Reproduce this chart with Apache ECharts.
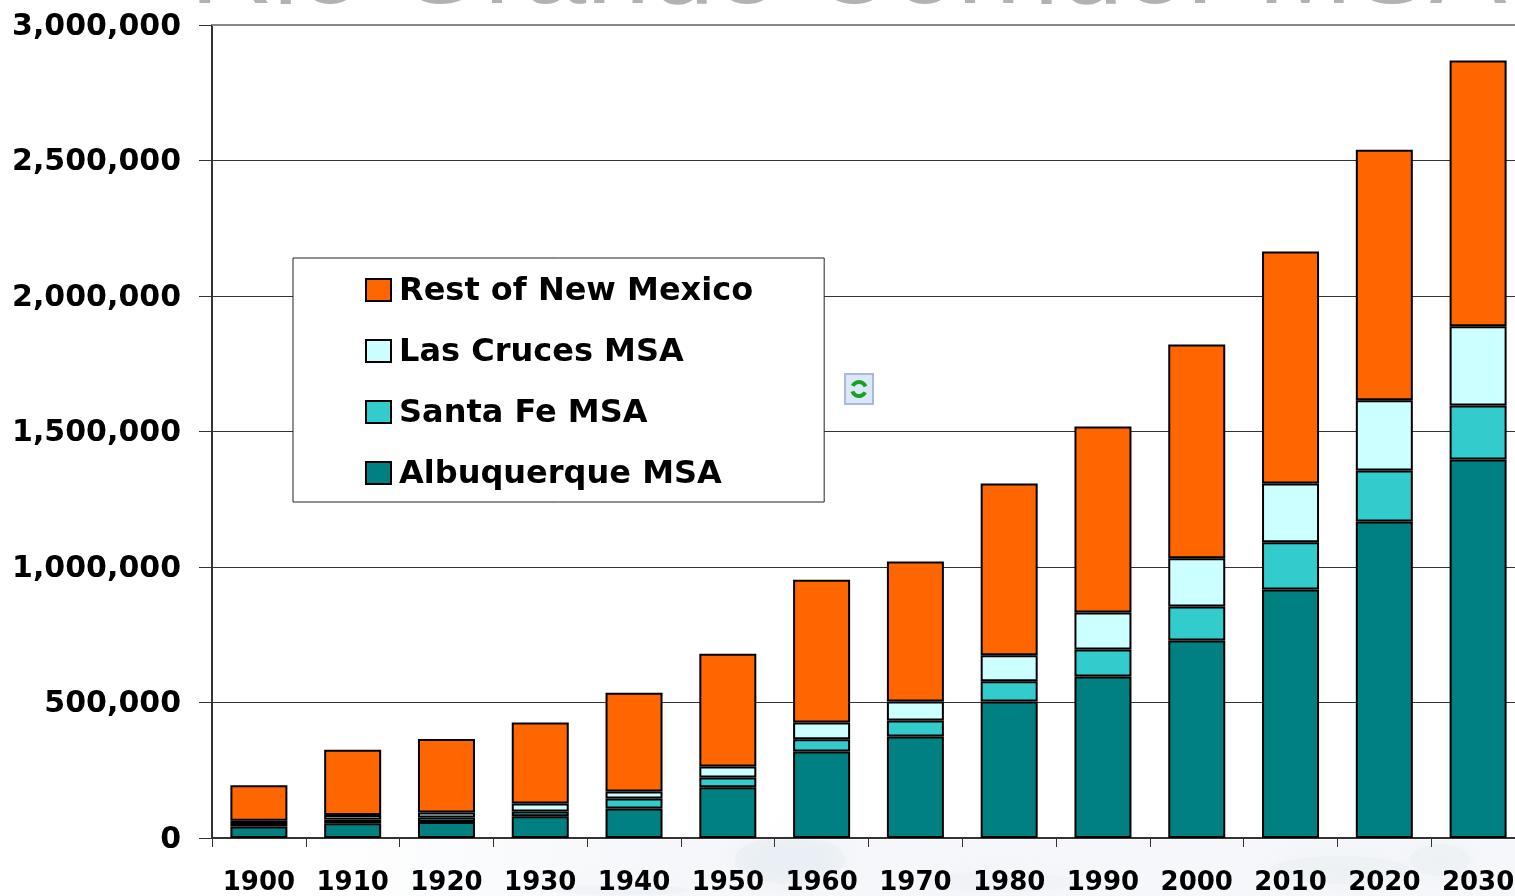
<!DOCTYPE html>
<html><head><meta charset="utf-8">
<style>html,body{margin:0;padding:0;background:#fff}#c{width:1515px;height:896px}</style>
<script src="https://cdn.jsdelivr.net/npm/echarts@6/dist/echarts.min.js"></script>
</head><body><div id="c"></div>
<script>
const categories=['1900','1910','1920','1930','1940','1950','1960','1970','1980','1990','2000','2010','2020','2030'];
const albuquerque=[42000,54000,59000,80000,109000,187000,319000,375000,504000,596000,729000,917000,1168000,1397000];
const santaFe=[13000,14000,17000,18000,37000,36000,45000,59000,74000,100000,125000,174000,188000,199000];
const lasCruces=[9000,17000,18000,29000,26000,41000,62000,70000,96000,136000,178000,217000,259000,292000];
const restOfNM=[131000,241000,271000,299000,364000,416000,527000,516000,634000,686000,789000,856000,925000,981000];
const seriesNames=['Albuquerque MSA','Santa Fe MSA','Las Cruces MSA','Rest of New Mexico'];
const seriesColors=['#008080','#33CCCC','#CCFFFF','#FF6600'];
const seriesData=[albuquerque,santaFe,lasCruces,restOfNM];
const titleText='Rio Grande Corridor MSAs';
const chart=echarts.init(document.getElementById('c'),null,{renderer:'canvas'});
const font='"DejaVu Sans"';
const cloud=(cx,cy,rx,ry,o)=>({type:'ellipse',silent:true,z:-1,shape:{cx,cy,rx,ry},style:{fill:'#c9d3e4',opacity:o,shadowBlur:24,shadowColor:'#c9d3e4'}});
chart.setOption({
  animation:false,
  backgroundColor:'#fff',
  graphic:{elements:[
    {type:'rect',silent:true,z:-2,shape:{x:300,y:840,width:1215,height:56},style:{fill:new echarts.graphic.LinearGradient(0,0,1,0,[{offset:0,color:'#ffffff'},{offset:0.3,color:'#f5f7fa'},{offset:1,color:'#f5f7fa'}])}},
    cloud(790,860,55,24,0.12),cloud(1000,882,80,10,0.08),cloud(1340,870,70,14,0.1),cloud(1440,860,30,16,0.1),cloud(620,890,70,5,0.1),
    {type:'text',silent:true,z:0,x:190,y:-86,style:{text:titleText,font:'115px "Liberation Sans"',fill:'#b2b2b2'}},
    {type:'group',x:845,y:374,silent:true,z:50,children:[
      {type:'rect',shape:{x:0,y:0,width:28,height:30},style:{fill:'#dce7fa',stroke:'#a9bbdc',lineWidth:2}},
      {type:'arc',shape:{cx:14,cy:15,r:7,startAngle:3.6,endAngle:5.9},style:{fill:'none',stroke:'#19a21e',lineWidth:4}},
      {type:'arc',shape:{cx:14,cy:15,r:7,startAngle:0.5,endAngle:2.8},style:{fill:'none',stroke:'#19a21e',lineWidth:4}}
    ]}
  ]},
  grid:{left:212,top:25,width:1313,height:813,containLabel:false,outerBoundsMode:'none'},
  legend:{
    orient:'vertical',left:293,top:258,
    data:[...seriesNames].reverse().map(name=>({name,icon:'rect'})),
    backgroundColor:'#fff',borderColor:'#222',borderWidth:1,
    padding:[14,71,11,72],itemWidth:25,itemHeight:22,itemGap:25,
    formatter:n=>'{a|'+n+'}',
    textStyle:{fontFamily:font,fontWeight:'bold',fontSize:32,lineHeight:32,color:'#000',
      rich:{a:{fontFamily:font,fontWeight:'bold',fontSize:32,lineHeight:32,color:'#000',padding:[4,0,0,3]}}},
    selectedMode:false
  },
  xAxis:[{type:'category',data:categories,
    axisLine:{lineStyle:{color:'#333',width:2}},
    axisTick:{show:true,interval:0,length:9,lineStyle:{color:'#333',width:1}},
    axisLabel:{interval:0,fontFamily:font,fontWeight:'bold',fontSize:26,color:'#000',margin:32}},
    {type:'category',position:'top',data:categories,
    axisLine:{show:true,lineStyle:{color:'#888',width:2}},axisTick:{show:false},axisLabel:{show:false}}],
  yAxis:{type:'value',min:0,max:3000000,interval:500000,
    axisLine:{show:true,lineStyle:{color:'#333',width:2}},
    axisTick:{show:true,length:13,lineStyle:{color:'#333'}},
    splitLine:{lineStyle:{color:'#333',width:1}},
    axisLabel:{color:'#000',margin:31,
      rich:{a:{fontFamily:font,fontWeight:'bold',fontSize:30,color:'#000',padding:[4,0,0,0]}},
      formatter:v=>'{a|'+v.toLocaleString('en-US')+'}'}},
  series:seriesData.map((d,i)=>({name:seriesNames[i],type:'bar',stack:'t',data:d,barWidth:57,
    itemStyle:{color:seriesColors[i],borderColor:'#000',borderWidth:2}}))
});
</script></body></html>
